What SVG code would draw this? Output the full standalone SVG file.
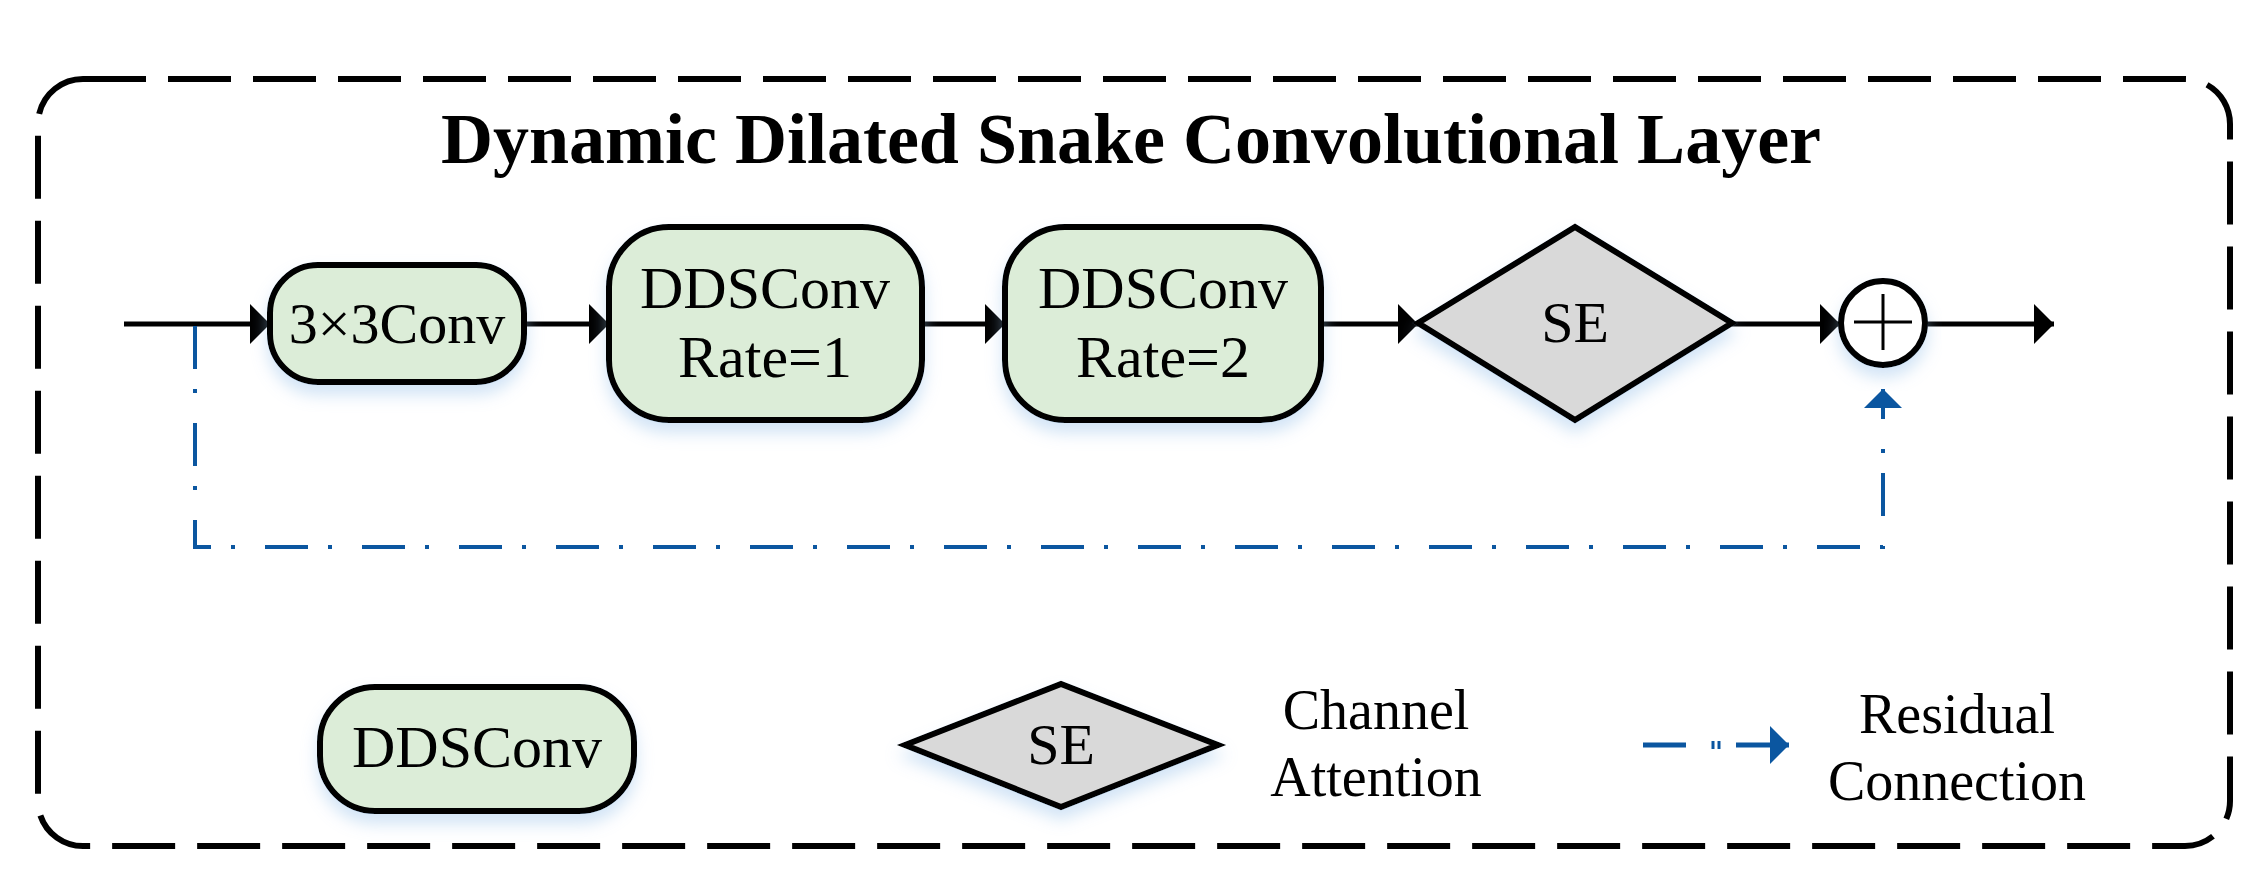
<svg xmlns="http://www.w3.org/2000/svg" width="2260" height="887" viewBox="0 0 2260 887">
<defs>
<filter id="sh" x="-20%" y="-20%" width="140%" height="150%">
<feDropShadow dx="0" dy="10" stdDeviation="8" flood-color="#9cc3ea" flood-opacity="0.45"/>
</filter>
<marker id="ah" markerUnits="userSpaceOnUse" markerWidth="22" markerHeight="40" refX="20" refY="20" orient="auto">
<path d="M0,0 L20,20 L0,40 Z" fill="#000"/>
</marker>
<marker id="bh" markerUnits="userSpaceOnUse" markerWidth="22" markerHeight="40" refX="19" refY="20" orient="auto">
<path d="M0,1 L19,20 L0,39 Z" fill="#0b56a0"/>
</marker>
</defs>
<style>
.t{font-family:"Liberation Serif","Times New Roman",serif;fill:#000;text-anchor:middle}
.box{fill:#dcedd8;stroke:#000;stroke-width:6}
.dia{fill:#d9d9d9;stroke:#000;stroke-width:6}
.ln{stroke:#000;stroke-width:5;fill:none}
.res{stroke:#0b56a0;stroke-width:4;fill:none;stroke-dasharray:43 20 4 30}
</style>
<rect x="38" y="79" width="2192" height="767" rx="45" fill="none" stroke="#000" stroke-width="6" stroke-dasharray="63 22"/>
<text class="t" x="1131" y="163" font-size="72" font-weight="bold">Dynamic Dilated Snake Convolutional Layer</text>
<g id="connectors">
<line class="ln" x1="124" y1="324" x2="270" y2="324" marker-end="url(#ah)"/>
<line class="ln" x1="524" y1="324" x2="609" y2="324" marker-end="url(#ah)"/>
<line class="ln" x1="922" y1="324" x2="1005" y2="324" marker-end="url(#ah)"/>
<line class="ln" x1="1321" y1="324" x2="1418" y2="324" marker-end="url(#ah)"/>
<line class="ln" x1="1732" y1="324" x2="1840" y2="324" marker-end="url(#ah)"/>
<line class="ln" x1="1926" y1="324" x2="2054" y2="324" marker-end="url(#ah)"/>
<path class="res" d="M195,326 V547 H1883 V389" marker-end="url(#bh)"/>
</g>
<g id="conv3" filter="url(#sh)">
<rect class="box" x="270" y="265" width="254" height="117" rx="48"/>
<text class="t" x="397" y="343" font-size="58">3×3Conv</text>
</g>
<g id="dds1" filter="url(#sh)">
<rect class="box" x="609" y="227" width="313" height="193" rx="60"/>
<text class="t" x="765" y="308" font-size="60">DDSConv</text>
<text class="t" x="765" y="377" font-size="60">Rate=1</text>
</g>
<g id="dds2" filter="url(#sh)">
<rect class="box" x="1005" y="227" width="316" height="193" rx="60"/>
<text class="t" x="1163" y="308" font-size="60">DDSConv</text>
<text class="t" x="1163" y="377" font-size="60">Rate=2</text>
</g>
<g id="se" filter="url(#sh)">
<polygon class="dia" points="1418,323 1575,227 1732,323 1575,420"/>
<text class="t" x="1575" y="342" font-size="58">SE</text>
</g>
<g id="sum" filter="url(#sh)">
<circle cx="1883" cy="323" r="42" fill="#fff" stroke="#000" stroke-width="6"/>
<line x1="1854" y1="322" x2="1912" y2="322" stroke="#000" stroke-width="3"/>
<line x1="1883" y1="294" x2="1883" y2="350" stroke="#000" stroke-width="3"/>
</g>
<g id="legend-dds" filter="url(#sh)">
<rect class="box" x="320" y="687" width="314" height="124" rx="55"/>
<text class="t" x="477" y="767" font-size="60">DDSConv</text>
</g>
<g id="legend-se" filter="url(#sh)">
<polygon class="dia" points="905,745 1061,684 1218,745 1061,807"/>
<text class="t" x="1061" y="764" font-size="58">SE</text>
</g>
<g id="legend-text">
<text class="t" x="1376" y="729" font-size="56">Channel</text>
<text class="t" x="1376" y="796" font-size="56">Attention</text>
<line x1="1643" y1="745" x2="1686" y2="745" stroke="#0b56a0" stroke-width="5"/>
<line x1="1713" y1="741" x2="1713" y2="749" stroke="#0b56a0" stroke-width="3"/>
<line x1="1719" y1="741" x2="1719" y2="749" stroke="#0b56a0" stroke-width="3"/>
<line x1="1736" y1="745" x2="1789" y2="745" stroke="#0b56a0" stroke-width="5" marker-end="url(#bh)"/>
<text class="t" x="1957" y="733" font-size="56">Residual</text>
<text class="t" x="1957" y="800" font-size="56">Connection</text>
</g>
</svg>
